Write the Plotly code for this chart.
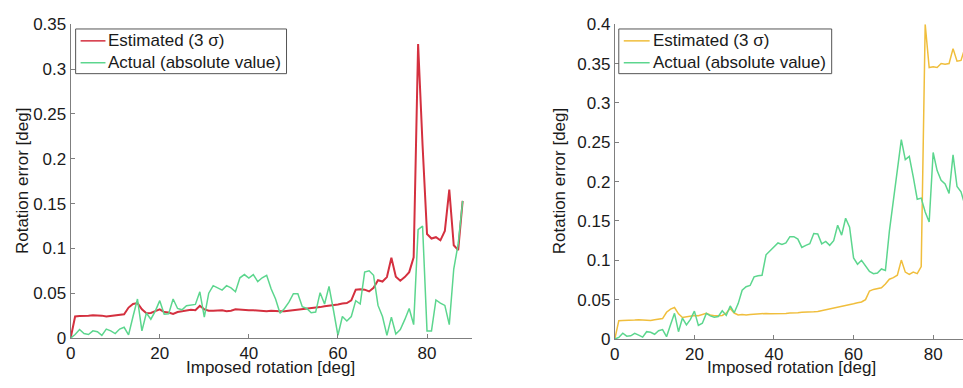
import plotly.graph_objects as go

# Imposed rotation angles [deg]
angles = list(range(0, 89))

# Left panel: estimated 3-sigma error and actual absolute error [deg]
est_left = [
    0.0, 0.024, 0.0245, 0.0245, 0.025, 0.0255, 0.0255, 0.025, 0.024, 0.0245,
    0.025, 0.0255, 0.0265, 0.034, 0.038, 0.039, 0.032, 0.0276, 0.028, 0.030,
    0.032, 0.029, 0.0285, 0.027, 0.029, 0.030, 0.031, 0.0315, 0.031, 0.036,
    0.032, 0.0305, 0.0305, 0.031, 0.031, 0.030, 0.0305, 0.032, 0.0315, 0.0315,
    0.031, 0.031, 0.0305, 0.030, 0.030, 0.0305, 0.030, 0.0298, 0.030, 0.0305,
    0.031, 0.0315, 0.032, 0.033, 0.0335, 0.034, 0.0345, 0.0355, 0.036, 0.037,
    0.0375, 0.0385, 0.039, 0.042, 0.054, 0.0545, 0.054, 0.052, 0.056, 0.0645,
    0.063, 0.068, 0.0895, 0.0685, 0.064, 0.068, 0.0735, 0.090, 0.328, 0.215,
    0.116, 0.111, 0.1125, 0.109, 0.1195, 0.1655, 0.1035, 0.098, 0.153,
]
act_left = [
    0.0, 0.004, 0.0095, 0.005, 0.004, 0.008, 0.007, 0.003, 0.0100, 0.008,
    0.005, 0.010, 0.0120, 0.0035, 0.024, 0.0435, 0.008, 0.028, 0.021, 0.030,
    0.0417, 0.0265, 0.027, 0.0435, 0.033, 0.0315, 0.036, 0.037, 0.0375, 0.0516,
    0.0234, 0.050, 0.0584, 0.056, 0.0535, 0.0584, 0.056, 0.0516, 0.0672, 0.0708,
    0.0668, 0.0708, 0.063, 0.0672, 0.070, 0.055, 0.0435, 0.0276, 0.033, 0.040,
    0.0495, 0.0495, 0.035, 0.033, 0.0283, 0.029, 0.0506, 0.038, 0.0577, 0.031,
    0.003, 0.024, 0.019, 0.024, 0.0417, 0.038, 0.0736, 0.075, 0.070, 0.0364,
    0.024, 0.003, 0.0234, 0.0046, 0.0095, 0.0205, 0.033, 0.015, 0.121, 0.125,
    0.008, 0.008, 0.0425, 0.039, 0.0364, 0.015, 0.077, 0.105, 0.153,
]

# Right panel: estimated 3-sigma error and actual absolute error [deg]
est_right = [
    0.0, 0.0233, 0.0235, 0.0235, 0.024, 0.024, 0.0245, 0.024, 0.0235, 0.0235,
    0.0245, 0.025, 0.026, 0.034, 0.038, 0.040, 0.032, 0.0274, 0.028, 0.0285,
    0.030, 0.0295, 0.031, 0.0326, 0.0305, 0.0295, 0.0295, 0.030, 0.033, 0.0387,
    0.033, 0.0306, 0.031, 0.0305, 0.031, 0.0315, 0.0315, 0.0325, 0.0325, 0.032,
    0.032, 0.0325, 0.0325, 0.0325, 0.033, 0.033, 0.0334, 0.034, 0.034, 0.0345,
    0.0346, 0.035, 0.036, 0.037, 0.0385, 0.039, 0.040, 0.041, 0.042, 0.043,
    0.0447, 0.046, 0.047, 0.050, 0.061, 0.063, 0.064, 0.065, 0.070, 0.076,
    0.078, 0.081, 0.1003, 0.085, 0.082, 0.085, 0.083, 0.092, 0.400, 0.345,
    0.346, 0.345, 0.350, 0.349, 0.350, 0.369, 0.353, 0.354, 0.370,
]
act_right = [
    0.0, 0.002, 0.0073, 0.0036, 0.004, 0.0073, 0.005, 0.0024, 0.0093, 0.0085,
    0.006, 0.0105, 0.012, 0.003, 0.018, 0.0326, 0.0093, 0.0266, 0.018, 0.025,
    0.0354, 0.0173, 0.020, 0.0326, 0.0294, 0.0278, 0.0286, 0.0358, 0.030, 0.042,
    0.0334, 0.045, 0.062, 0.0665, 0.068, 0.079, 0.0805, 0.081, 0.107, 0.112,
    0.117, 0.122, 0.120, 0.122, 0.130, 0.130, 0.127, 0.1164, 0.119, 0.121,
    0.134, 0.1335, 0.121, 0.124, 0.119, 0.125, 0.1446, 0.132, 0.1535, 0.142,
    0.103, 0.095, 0.100, 0.0935, 0.0858, 0.083, 0.0838, 0.089, 0.087, 0.137,
    0.1736, 0.210, 0.2534, 0.228, 0.232, 0.206, 0.1776, 0.179, 0.1615, 0.1486,
    0.237, 0.214, 0.2018, 0.197, 0.185, 0.234, 0.1937, 0.187, 0.170,
]

x_ticks = [0, 20, 40, 60, 80]
left_y_ticks = [0, 0.05, 0.1, 0.15, 0.2, 0.25, 0.3, 0.35]
right_y_ticks = [0, 0.05, 0.1, 0.15, 0.2, 0.25, 0.3, 0.35, 0.4]
legend_labels = ["Estimated (3 \u03c3)", "Actual (absolute value)"]

RED = "#d4303f"
GREEN = "#5cd68e"
YELLOW = "#f0be3c"
AXIS = "#7f7f7f"
TEXT = "#1a1a1a"
FONT = "Liberation Sans, Arial, sans-serif"
FS = 17

W, H = 963, 388


def px_x(p):
    return p / W


def px_y(p):
    return 1 - p / H


fig = go.Figure()
fig.add_trace(go.Scatter(x=angles, y=est_left, mode="lines", name=legend_labels[0],
                         line=dict(color=RED, width=2), xaxis="x", yaxis="y"))
fig.add_trace(go.Scatter(x=angles, y=act_left, mode="lines", name=legend_labels[1],
                         line=dict(color=GREEN, width=1.5), xaxis="x", yaxis="y"))
fig.add_trace(go.Scatter(x=angles, y=est_right, mode="lines", name=legend_labels[0],
                         line=dict(color=YELLOW, width=1.5), xaxis="x2", yaxis="y2"))
fig.add_trace(go.Scatter(x=angles, y=act_right, mode="lines", name=legend_labels[1],
                         line=dict(color=GREEN, width=1.5), xaxis="x2", yaxis="y2"))

axis_common = dict(showline=True, linecolor=AXIS, linewidth=1, ticks="inside", ticklen=4,
                   tickcolor=AXIS, showgrid=False, zeroline=False, mirror=False,
                   tickfont=dict(family=FONT, size=FS, color=TEXT))

fig.update_layout(
    width=W, height=H,
    margin=dict(l=0, r=0, t=0, b=0),
    paper_bgcolor="white", plot_bgcolor="white",
    font=dict(family=FONT, size=FS, color=TEXT),
    showlegend=False,
    xaxis=dict(domain=[px_x(66), px_x(469)], range=[0, 90], tickvals=x_ticks,
               anchor="y", **axis_common),
    yaxis=dict(domain=[px_y(346), px_y(16)], range=[0, 0.35], tickvals=left_y_ticks,
               anchor="x", **axis_common),
    xaxis2=dict(domain=[px_x(613), 1.0], range=[0, 87.5], tickvals=x_ticks,
                anchor="y2", **axis_common),
    yaxis2=dict(domain=[px_y(347), px_y(16)], range=[0, 0.4], tickvals=right_y_ticks,
                anchor="x2", **axis_common),
)

# Boxed legends, one per panel: (box left, box right, sample start, sample end, colours)
legends = [
    (71, 283, 76, 101, [RED, GREEN]),
    (617, 831, 622, 648, [YELLOW, GREEN]),
]
row_y = [33.5, 56.5]
for box_l, box_r, s0, s1, colors in legends:
    fig.add_shape(type="rect", xref="paper", yref="paper",
                  x0=px_x(box_l), x1=px_x(box_r), y0=px_y(68), y1=px_y(21),
                  line=dict(color="#555555", width=1), fillcolor="white", layer="above")
    for ry, col, label in zip(row_y, colors, legend_labels):
        fig.add_shape(type="line", xref="paper", yref="paper",
                      x0=px_x(s0), x1=px_x(s1), y0=px_y(ry), y1=px_y(ry),
                      line=dict(color=col, width=1.5), layer="above")
        fig.add_annotation(xref="paper", yref="paper", x=px_x(s1 + 1), y=px_y(ry),
                           text=label, showarrow=False, xanchor="left", yanchor="middle",
                           font=dict(family=FONT, size=FS, color=TEXT))

# Axis titles (y titles centred on the panels, x titles sitting on the bottom edge)
y_titles = [("Rotation error [deg]", 17), ("Rotation error [deg]", 557)]
for text, tx in y_titles:
    fig.add_annotation(xref="paper", yref="paper", x=px_x(tx), y=px_y(181), text=text,
                       textangle=-90, showarrow=False, xanchor="center", yanchor="middle",
                       borderpad=0, font=dict(family=FONT, size=FS, color=TEXT))
x_titles = [("Imposed rotation [deg]", 267), ("Imposed rotation [deg]", 791)]
for text, tx in x_titles:
    fig.add_annotation(xref="paper", yref="paper", x=px_x(tx), y=px_y(388), text=text,
                       showarrow=False, xanchor="center", yanchor="bottom",
                       borderpad=0, font=dict(family=FONT, size=FS, color=TEXT))

fig.write_html("out.html")
